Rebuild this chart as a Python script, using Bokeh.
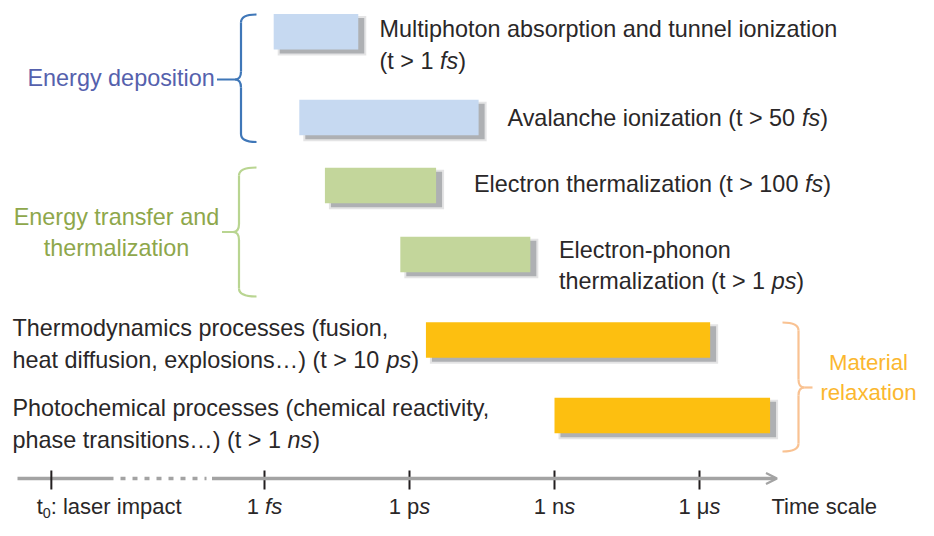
from bokeh.plotting import figure
from bokeh.models import Range1d, ColumnDataSource, Arrow, OpenHead
from bokeh.core.properties import value, field
from bokeh.embed import file_html
from bokeh.resources import INLINE

# ---------------- data ----------------
processes = [
    "Multiphoton absorption and tunnel ionization",
    "Avalanche ionization",
    "Electron thermalization",
    "Electron-phonon thermalization",
    "Thermodynamics processes",
    "Photochemical processes",
]
# log10(time / s) of each bar
start_log10_s = [-14.81, -14.28, -13.75, -12.19, -11.66, -9.00]
end_log10_s = [-13.06, -10.57, -11.45, -9.50, -5.78, -4.54]
group_of_process = [0, 0, 1, 1, 2, 2]

group_names = [["Energy deposition"], ["Energy transfer and", "thermalization"], ["Material", "relaxation"]]

desc_lines = [
    [[("Multiphoton absorption and tunnel ionization", "normal")],
     [("(t > 1 ", "normal"), ("fs", "italic"), (")", "normal")]],
    [[("Avalanche ionization (t > 50 ", "normal"), ("fs", "italic"), (")", "normal")]],
    [[("Electron thermalization (t > 100 ", "normal"), ("fs", "italic"), (")", "normal")]],
    [[("Electron-phonon", "normal")],
     [("thermalization (t > 1 ", "normal"), ("ps", "italic"), (")", "normal")]],
    [[("Thermodynamics processes (fusion,", "normal")],
     [("heat diffusion, explosions\u2026) (t > 10 ", "normal"), ("ps", "italic"), (")", "normal")]],
    [[("Photochemical processes (chemical reactivity,", "normal")],
     [("phase transitions\u2026) (t > 1 ", "normal"), ("ns", "italic"), (")", "normal")]],
]

T0_POS = -19.41
tick_values = [T0_POS, -15, -12, -9, -6]
tick_labels = [
    [("t", "normal"), ("0", "sub"), (": laser impact", "normal")],
    [("1 ", "normal"), ("fs", "italic")],
    [("1 p", "normal"), ("s", "italic")],
    [("1 n", "normal"), ("s", "italic")],
    [("1 \u03bc", "normal"), ("s", "italic")],
]
axis_title = "Time scale"

# ---------------- styles / layout ----------------
BAR_COLORS = ["#c6d9f1", "#c3d69b", "#fdbf10"]
GROUP_TEXT_COLORS = ["#5561ad", "#8ea74b", "#fbb72f"]
BRACE_COLORS = ["#3f77b8", "#b9d591", "#f9c292"]
TEXT_COLOR = "#2a2728"
SHADOW = "#a5a7aa"
AXIS_GRAY = "#a3a3a3"
FONT = "Liberation Sans"

PX_PER_DECADE = 48.333
FS_PX = 264.0
W_FIG, H_FIG = 918, 520


def px2x(px):
    return -15 + (px - FS_PX) / PX_PER_DECADE


def x2px(x):
    return FS_PX + (x + 15) * PX_PER_DECADE


ROW_Y = [31.2, 117.0, 185.0, 254.0, 339.5, 415.0]
BAR_H = 35.6
DESC_POS = [(379, 37), (507, 125.5), (473.5, 192), (558.5, 257.5), (12, 336), (12, 416)]
LINE_GAP = 31.5
GROUP_POS = [("left", 27, 85.7), ("center", 116, 224.5), ("center", 868, 370)]
GROUP_GAP = [0, 31.5, 30]
GROUP_SIZE = [23.4, 23.4, 22.2]
BRACES = [
    dict(spine=240.5, top=14, bottom=141.5, mid=79, hook=15.5, tip=-24),
    dict(spine=238.5, top=167, bottom=296, mid=231.5, hook=17.5, tip=-17),
    dict(spine=798, top=322, bottom=451, mid=387, hook=-16, tip=14),
]
AXIS_Y = 478
LABEL_Y = 514
DESC_SIZE = 23.4
AXIS_SIZE = 22
BASELINE_FIX = -0.36  # em; aligns the drawn alphabetic baseline with the intended one

W = {' ': 278, '(': 333, ')': 333, '>': 584, ',': 278, '.': 278, '\u2026': 1000, '-': 333, ':': 278,
     '\u03bc': 576, 'A': 667, 'E': 667, 'M': 833, 'P': 667, 'T': 611,
     'a': 556, 'b': 556, 'c': 500, 'd': 556, 'e': 556, 'f': 278, 'g': 556, 'h': 556, 'i': 222,
     'j': 222, 'k': 500, 'l': 222, 'm': 833, 'n': 556, 'o': 556, 'p': 556, 'q': 556, 'r': 333,
     's': 500, 't': 278, 'u': 556, 'v': 500, 'w': 722, 'x': 500, 'y': 500, 'z': 500}
for d in "0123456789":
    W[d] = 556


def seg_width(s, size):
    return sum(W.get(c, 556) for c in s) * size / 1000.0


# ---------------- figure ----------------
p = figure(width=W_FIG, height=H_FIG, x_range=Range1d(px2x(0), px2x(W_FIG)), y_range=Range1d(H_FIG, 0),
           output_backend="svg", toolbar_location=None, min_border=0,
           x_axis_location=None, y_axis_location=None, outline_line_color=None)
p.grid.visible = False
p.background_fill_color = "white"
p.border_fill_color = "white"

# bars with soft shadows
sdx = 6 / PX_PER_DECADE
sdy = 4
bars = ColumnDataSource(dict(
    left=start_log10_s, right=end_log10_s,
    top=[y - BAR_H / 2 for y in ROW_Y], bottom=[y + BAR_H / 2 for y in ROW_Y],
    color=[BAR_COLORS[g] for g in group_of_process],
    sl=[s + sdx - 2 / PX_PER_DECADE for s in start_log10_s],
    sr=[e + sdx + 2 / PX_PER_DECADE for e in end_log10_s],
    st=[y - BAR_H / 2 + sdy - 2 for y in ROW_Y], sb=[y + BAR_H / 2 + sdy + 2 for y in ROW_Y],
    cl=[s + sdx for s in start_log10_s], cr=[e + sdx for e in end_log10_s],
    ct=[y - BAR_H / 2 + sdy for y in ROW_Y], cb=[y + BAR_H / 2 + sdy for y in ROW_Y],
    name=processes,
))
p.quad(left="sl", right="sr", top="st", bottom="sb", source=bars, fill_color=SHADOW, fill_alpha=0.3, line_color=None)
p.quad(left="cl", right="cr", top="ct", bottom="cb", source=bars, fill_color=SHADOW, fill_alpha=0.85, line_color=None)
p.quad(left="left", right="right", top="top", bottom="bottom", source=bars, fill_color="color", line_color=None)

# braces
for g, b in enumerate(BRACES):
    c = BRACE_COLORS[g]
    s = 1 if b["hook"] > 0 else -1
    sp, r = b["spine"], 8
    X = px2x
    p.quadratic(x0=[X(sp + b["hook"]), X(sp), X(sp - s * 6), X(sp)],
                y0=[b["top"], b["mid"] - r, b["mid"], b["bottom"] - r],
                x1=[X(sp), X(sp - s * 6), X(sp), X(sp + b["hook"])],
                y1=[b["top"] + r, b["mid"], b["mid"] + r, b["bottom"]],
                cx=[X(sp), X(sp), X(sp), X(sp)],
                cy=[b["top"], b["mid"], b["mid"], b["bottom"]],
                line_color=c, line_width=2.2)
    p.segment(x0=[X(sp), X(sp), X(sp - s * 6)], y0=[b["top"] + r, b["mid"] + r, b["mid"]],
              x1=[X(sp), X(sp), X(sp + b["tip"])], y1=[b["mid"] - r, b["bottom"] - r, b["mid"]],
              line_color=c, line_width=2.2)

# time axis
p.segment(x0=[px2x(17)], y0=[AXIS_Y], x1=[px2x(113)], y1=[AXIS_Y], line_color=AXIS_GRAY, line_width=3.5)
p.segment(x0=[px2x(120)], y0=[AXIS_Y], x1=[px2x(206)], y1=[AXIS_Y], line_color=AXIS_GRAY, line_width=3.5,
          line_dash="5 7")
p.add_layout(Arrow(end=OpenHead(size=11, line_color=AXIS_GRAY, line_width=2.2),
                   x_start=px2x(211.5), y_start=AXIS_Y, x_end=px2x(776.5), y_end=AXIS_Y,
                   line_color=AXIS_GRAY, line_width=3.5))
p.segment(x0=tick_values, y0=[AXIS_Y - 8] * len(tick_values), x1=tick_values, y1=[AXIS_Y + 11] * len(tick_values),
          line_color="#231f20", line_width=2)

# texts
items = {"normal": [], "italic": []}


def add_line(segs, x_px, y_px, size, color, align="left"):
    widths = []
    for t, st in segs:
        widths.append(seg_width(t, size * 0.65 if st == "sub" else size))
    total = sum(widths)
    x = x_px - (total / 2 if align == "center" else 0)
    for (t, st), w in zip(segs, widths):
        fsz = size * 0.65 if st == "sub" else size
        dy = 4 if st == "sub" else 0
        key = "italic" if st == "italic" else "normal"
        items[key].append((px2x(x), y_px + dy + BASELINE_FIX * fsz, t, f"{fsz:.1f}px", color))
        x += w


for i, lines in enumerate(desc_lines):
    x0, y0 = DESC_POS[i]
    for j, segs in enumerate(lines):
        add_line(segs, x0, y0 + j * LINE_GAP, DESC_SIZE, TEXT_COLOR)

for g, lines in enumerate(group_names):
    al, x0, y0 = GROUP_POS[g]
    for j, t in enumerate(lines):
        add_line([(t, "normal")], x0, y0 + j * GROUP_GAP[g], GROUP_SIZE[g], GROUP_TEXT_COLORS[g], al)

for k, (tv, segs) in enumerate(zip(tick_values, tick_labels)):
    if k == 0:
        add_line(segs, x2px(tv) - 14.7, LABEL_Y, AXIS_SIZE, TEXT_COLOR, "left")
    else:
        add_line(segs, x2px(tv), LABEL_Y, AXIS_SIZE, TEXT_COLOR, "center")
add_line([(axis_title, "normal")], 771, LABEL_Y, AXIS_SIZE, TEXT_COLOR, "left")

for key, rows in items.items():
    src = ColumnDataSource(dict(x=[r[0] for r in rows], y=[r[1] for r in rows], text=[r[2] for r in rows],
                                size=[r[3] for r in rows], color=[r[4] for r in rows]))
    p.text(x="x", y="y", text="text", source=src, text_font=value(FONT), text_font_size=field("size"),
           text_font_style=key, text_color=field("color"), text_align="left", text_baseline="alphabetic")

open("out.html", "w").write(file_html(p, INLINE))
